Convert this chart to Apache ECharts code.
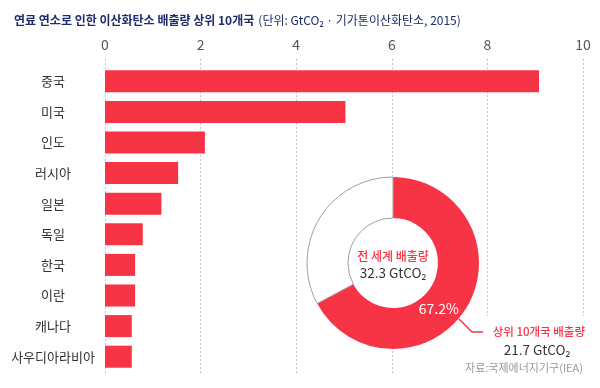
<!DOCTYPE html>
<html><head><meta charset="utf-8">
<script src="https://cdn.jsdelivr.net/npm/echarts@6/dist/echarts.min.js"></script>
<style>html,body{margin:0;padding:0;background:#fff}#c{width:600px;height:388px}</style>
</head><body><div id="c"></div>
<script>
const countries = ['중국','미국','인도','러시아','일본','독일','한국','이란','캐나다','사우디아라비아'];
const emissions = [9.08, 5.03, 2.09, 1.53, 1.18, 0.79, 0.63, 0.63, 0.56, 0.56];
const worldTotal = 32.3;
const top10Total = 21.7;
const xTicks = [0, 2, 4, 6, 8, 10];

const RED = '#f73446';
const NAVY = '#1d2c6b';
const FONT = '"Noto Sans CJK KR", "Noto Sans", sans-serif';
const pct = (top10Total / worldTotal * 100).toFixed(1) + '%';

const chart = echarts.init(document.getElementById('c'));
chart.setOption({
  animation: false,
  backgroundColor: '#fff',
  textStyle: { fontFamily: FONT },
  title: {
    left: 9, top: 6,
    text: '{b|연료 연소로 인한 이산화탄소 배출량 상위 10개국} {n|(단위: GtCO₂ · 기가톤이산화탄소, 2015)}',
    textStyle: {
      rich: {
        b: { fontFamily: FONT, fontSize: 12, fontWeight: 'bold', color: NAVY },
        n: { fontFamily: FONT, fontSize: 12, fontWeight: 'normal', color: NAVY }
      }
    }
  },
  grid: [
    { left: 105, right: 17, top: 59, bottom: 13 },
    { left: 105, right: 17, top: 66, bottom: 16 }
  ],
  xAxis: [
    { type: 'value', gridIndex: 0, position: 'top', min: xTicks[0], max: xTicks[xTicks.length-1], interval: 2,
      axisLine: { show: false }, axisTick: { show: false },
      axisLabel: { margin: 7, fontSize: 14, color: '#555', fontFamily: FONT },
      splitLine: { show: true, lineStyle: { color: '#c8c8c8', type: [2, 2], width: 1 } } },
    { type: 'value', gridIndex: 1, position: 'top', min: 0, max: 10, interval: 2, show: false,
      splitLine: { show: false } }
  ],
  yAxis: [
    { type: 'value', gridIndex: 0, show: false, splitLine: { show: false } },
    { type: 'category', gridIndex: 1, inverse: true, data: countries,
      axisLine: { show: false }, axisTick: { show: false },
      axisLabel: { align: 'center', margin: 52, fontSize: 13, color: '#333', fontFamily: FONT } }
  ],
  series: [
    { type: 'bar', xAxisIndex: 1, yAxisIndex: 1, data: emissions, barCategoryGap: '28%',
      itemStyle: { color: RED }, silent: true, z: 2 },
    { type: 'pie', center: [393, 263], radius: [45, 86], startAngle: 90, clockwise: true,
      z: 5, silent: true,
      data: [
        { value: top10Total, name: '상위 10개국', itemStyle: { color: RED, borderWidth: 0 },
          label: { show: true, position: 'inside', formatter: pct, color: '#fff', fontSize: 14, fontFamily: FONT } },
        { value: +(worldTotal - top10Total).toFixed(1), name: '기타', itemStyle: { color: '#fff', borderColor: '#a0a0a0', borderWidth: 1 },
          label: { show: false } }
      ],
      labelLine: { show: false },
      labelLayout: function (p) { return p.dataIndex === 0 ? { dx: -13, dy: 10 } : {}; }
    }
  ],
  graphic: [
    { type: 'rect', z: 3, shape: { x: 440, y: 316, width: 160, height: 72 }, style: { fill: '#fff' } },
    { type: 'circle', z: 4, shape: { cx: 393, cy: 263, r: 87 }, style: { fill: '#fff' } },
    { type: 'polyline', z: 10, shape: { points: [[459, 319], [472, 332], [483, 332]] }, style: { stroke: RED, lineWidth: 1.5, fill: null } },
    { type: 'text', z: 10, x: 585, y: 332, style: { text: '상위 10개국 배출량', fill: RED, font: '500 11.5px ' + FONT, align: 'right', verticalAlign: 'middle' } },
    { type: 'text', z: 10, x: 537, y: 350, style: { text: top10Total + ' GtCO₂', fill: '#333', font: '13.5px ' + FONT, align: 'center', verticalAlign: 'middle' } },
    { type: 'text', z: 10, x: 583, y: 368, style: { text: '자료:국제에너지기구(IEA)', fill: '#999', font: '11px ' + FONT, align: 'right', verticalAlign: 'middle' } },
    { type: 'text', z: 10, x: 393, y: 256, style: { text: '전 세계 배출량', fill: RED, font: '500 12px ' + FONT, align: 'center', verticalAlign: 'middle' } },
    { type: 'text', z: 10, x: 393, y: 273, style: { text: worldTotal + ' GtCO₂', fill: '#333', font: '13.5px ' + FONT, align: 'center', verticalAlign: 'middle' } }
  ]
});
</script></body></html>
